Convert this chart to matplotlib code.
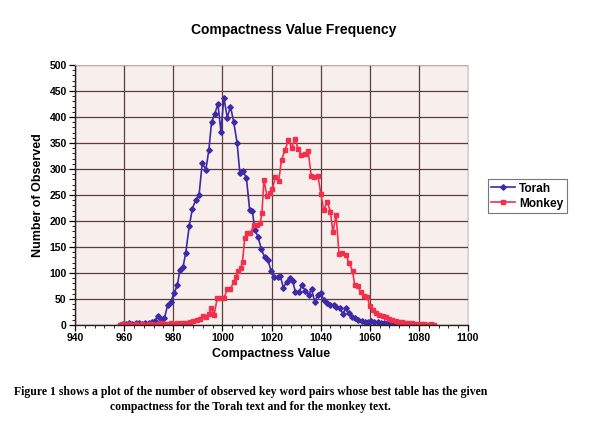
import numpy as np
import matplotlib
matplotlib.use('Agg')
import matplotlib.pyplot as plt
from matplotlib.ticker import MultipleLocator

# compactness values and counts
torah_x = [958.2, 959.5, 960.8, 962.1, 963.4, 964.7, 966.0, 967.3, 968.6, 970.0,
           971.5, 972.6, 973.7, 975.0, 976.4, 977.7, 979.0, 980.4, 981.7, 982.7,
           984.0, 985.1, 986.5, 987.8, 989.1, 990.5, 991.8, 993.3, 994.5, 995.6,
           996.8, 998.2, 999.4, 1000.6, 1002.0, 1003.3, 1004.6, 1006.0, 1007.1, 1008.4,
           1009.8, 1011.1, 1012.2, 1013.2, 1014.5, 1015.8, 1017.2, 1018.5, 1019.9, 1021.2,
           1022.5, 1023.6, 1024.8, 1026.2, 1027.5, 1028.6, 1029.7, 1031.1, 1032.5, 1033.8,
           1035.1, 1036.3, 1037.6, 1038.9, 1040.1, 1041.3, 1042.6, 1044.0, 1045.3, 1046.4,
           1047.7, 1049.1, 1050.2, 1051.5, 1052.8, 1054.1, 1055.4, 1056.7, 1058.0, 1059.3,
           1060.6, 1061.9, 1063.2, 1064.5, 1065.8, 1067.1, 1068.4, 1069.7, 1071.0, 1072.3,
           1073.6, 1074.9, 1076.2, 1077.5, 1078.8, 1080.1, 1081.4, 1082.7, 1084.0, 1085.3]
torah_y = [0, 2, 1, 3, 2, 4, 3, 2, 3, 3,
           5, 8, 17, 11, 13, 38, 45, 62, 77, 106,
           112, 139, 190, 224, 240, 250, 311, 299, 337, 390,
           405, 425, 372, 437, 399, 420, 391, 350, 293, 297,
           282, 222, 220, 183, 170, 147, 130, 125, 103, 92,
           93, 94, 72, 83, 90, 85, 64, 64, 76, 65,
           58, 69, 45, 58, 62, 48, 43, 38, 38, 34,
           32, 22, 32, 24, 16, 14, 10, 8, 5, 6,
           8, 5, 5, 4, 3, 3, 2, 2, 2, 1,
           1, 1, 0, 1, 0, 0, 0, 0, 0, 0]

monkey_x = [958.2, 959.5, 960.8, 962.1, 963.4, 964.7, 966.0, 967.3, 968.6, 970.0,
            971.3, 972.6, 973.9, 975.2, 976.5, 977.8, 979.1, 980.4, 981.7, 983.0,
            984.3, 985.6, 986.9, 988.2, 989.5, 990.8, 992.0, 993.3, 994.6, 995.5,
            996.6, 997.9, 999.3, 1000.6, 1002.0, 1003.3, 1004.6, 1005.5, 1006.5, 1007.5,
            1008.2, 1009.1, 1010.2, 1011.4, 1012.7, 1014.1, 1015.4, 1016.1, 1016.9, 1018.1,
            1019.3, 1020.4, 1021.6, 1022.9, 1024.1, 1025.5, 1026.9, 1028.2, 1029.6, 1030.9,
            1032.2, 1033.6, 1034.9, 1036.2, 1037.5, 1038.9, 1040.1, 1041.3, 1042.7, 1044.0,
            1045.0, 1046.3, 1047.5, 1048.8, 1050.2, 1051.7, 1053.0, 1053.9, 1055.2, 1056.3,
            1057.5, 1059.0, 1060.0, 1061.2, 1062.6, 1063.9, 1065.2, 1066.6, 1067.9, 1069.2,
            1070.5, 1071.8, 1073.1, 1074.4, 1075.7, 1077.0, 1078.3, 1079.6, 1080.9, 1082.2,
            1083.5, 1084.8, 1086.0]
monkey_y = [0, 1, 0, 1, 0, 1, 0, 1, 0, 1,
            1, 0, 2, 3, 2, 1, 3, 2, 3, 3,
            4, 3, 5, 7, 9, 12, 17, 15, 22, 32,
            19, 51, 51, 51, 69, 69, 83, 93, 103, 110,
            122, 167, 176, 176, 192, 192, 196, 215, 279, 249,
            253, 262, 285, 276, 318, 336, 356, 341, 358, 338,
            327, 328, 335, 286, 285, 287, 252, 221, 237, 218,
            178, 212, 136, 139, 135, 119, 103, 77, 75, 63,
            56, 54, 37, 29, 23, 19, 17, 15, 12, 9,
            7, 5, 5, 4, 3, 3, 2, 2, 1, 1,
            0, 1, 0]

xticks = np.arange(940, 1101, 20)
yticks = np.arange(0, 501, 50)

caption = ('Figure 1 shows a plot of the number of observed key word pairs whose best table has the given\n'
           'compactness for the Torah text and for the monkey text.')

plt.rcParams['font.family'] = ['Liberation Sans', 'DejaVu Sans']

fig = plt.figure(figsize=(6.0, 4.29), dpi=100)
ax = fig.add_axes([0.125, 0.2424, 0.655, 0.6061])
ax.set_facecolor('#f8efed')

ax.plot(torah_x, torah_y, color='#3d2aa5', lw=1.2, marker='D', ms=2.8, label='Torah')
ax.plot(monkey_x, monkey_y, color='#f2304c', lw=1.2, marker='s', ms=2.8, label='Monkey')

ax.set_xlim(940, 1100)
ax.set_ylim(0, 500)
ax.set_xticks(xticks)
ax.set_yticks(yticks)
ax.xaxis.set_minor_locator(MultipleLocator(4))
ax.yaxis.set_minor_locator(MultipleLocator(10))
ax.grid(True, which='major', color='#5a3d3d', lw=0.9)
ax.set_axisbelow(True)
for s in ['top', 'right']:
    ax.spines[s].set_color('#cfc6c4')
    ax.spines[s].set_linewidth(0.6)
for s in ['left', 'bottom']:
    ax.spines[s].set_color('#222222')
    ax.spines[s].set_linewidth(1.0)
ax.tick_params(which='major', length=4, width=0.9, labelsize=7.5, pad=2)
ax.tick_params(which='minor', length=2, width=0.6)
for t in ax.get_xticklabels() + ax.get_yticklabels():
    t.set_fontweight('bold')

ax.set_xlabel('Compactness Value', fontsize=9, fontweight='bold', labelpad=3)
ax.set_ylabel('Number of Observed', fontsize=9, fontweight='bold', labelpad=4)
fig.text(0.49, 0.93, 'Compactness Value Frequency', ha='center', va='center',
         fontsize=10, fontweight='bold')

leg = ax.legend(loc='center left', bbox_to_anchor=(1.035, 0.496), frameon=True,
                fancybox=False, fontsize=8.6, handlelength=2.0, borderpad=0.3,
                labelspacing=0.25, handletextpad=0.3)
leg.get_frame().set_edgecolor('#555555')
leg.get_frame().set_linewidth(0.8)
for t in leg.get_texts():
    t.set_fontweight('bold')

fig.text(0.417, 0.068, caption, ha='center', va='center', fontsize=8.5,
         fontweight='bold', family=['Liberation Serif', 'DejaVu Serif'],
         linespacing=1.3)

fig.savefig('out.png', dpi=100, facecolor='white')
